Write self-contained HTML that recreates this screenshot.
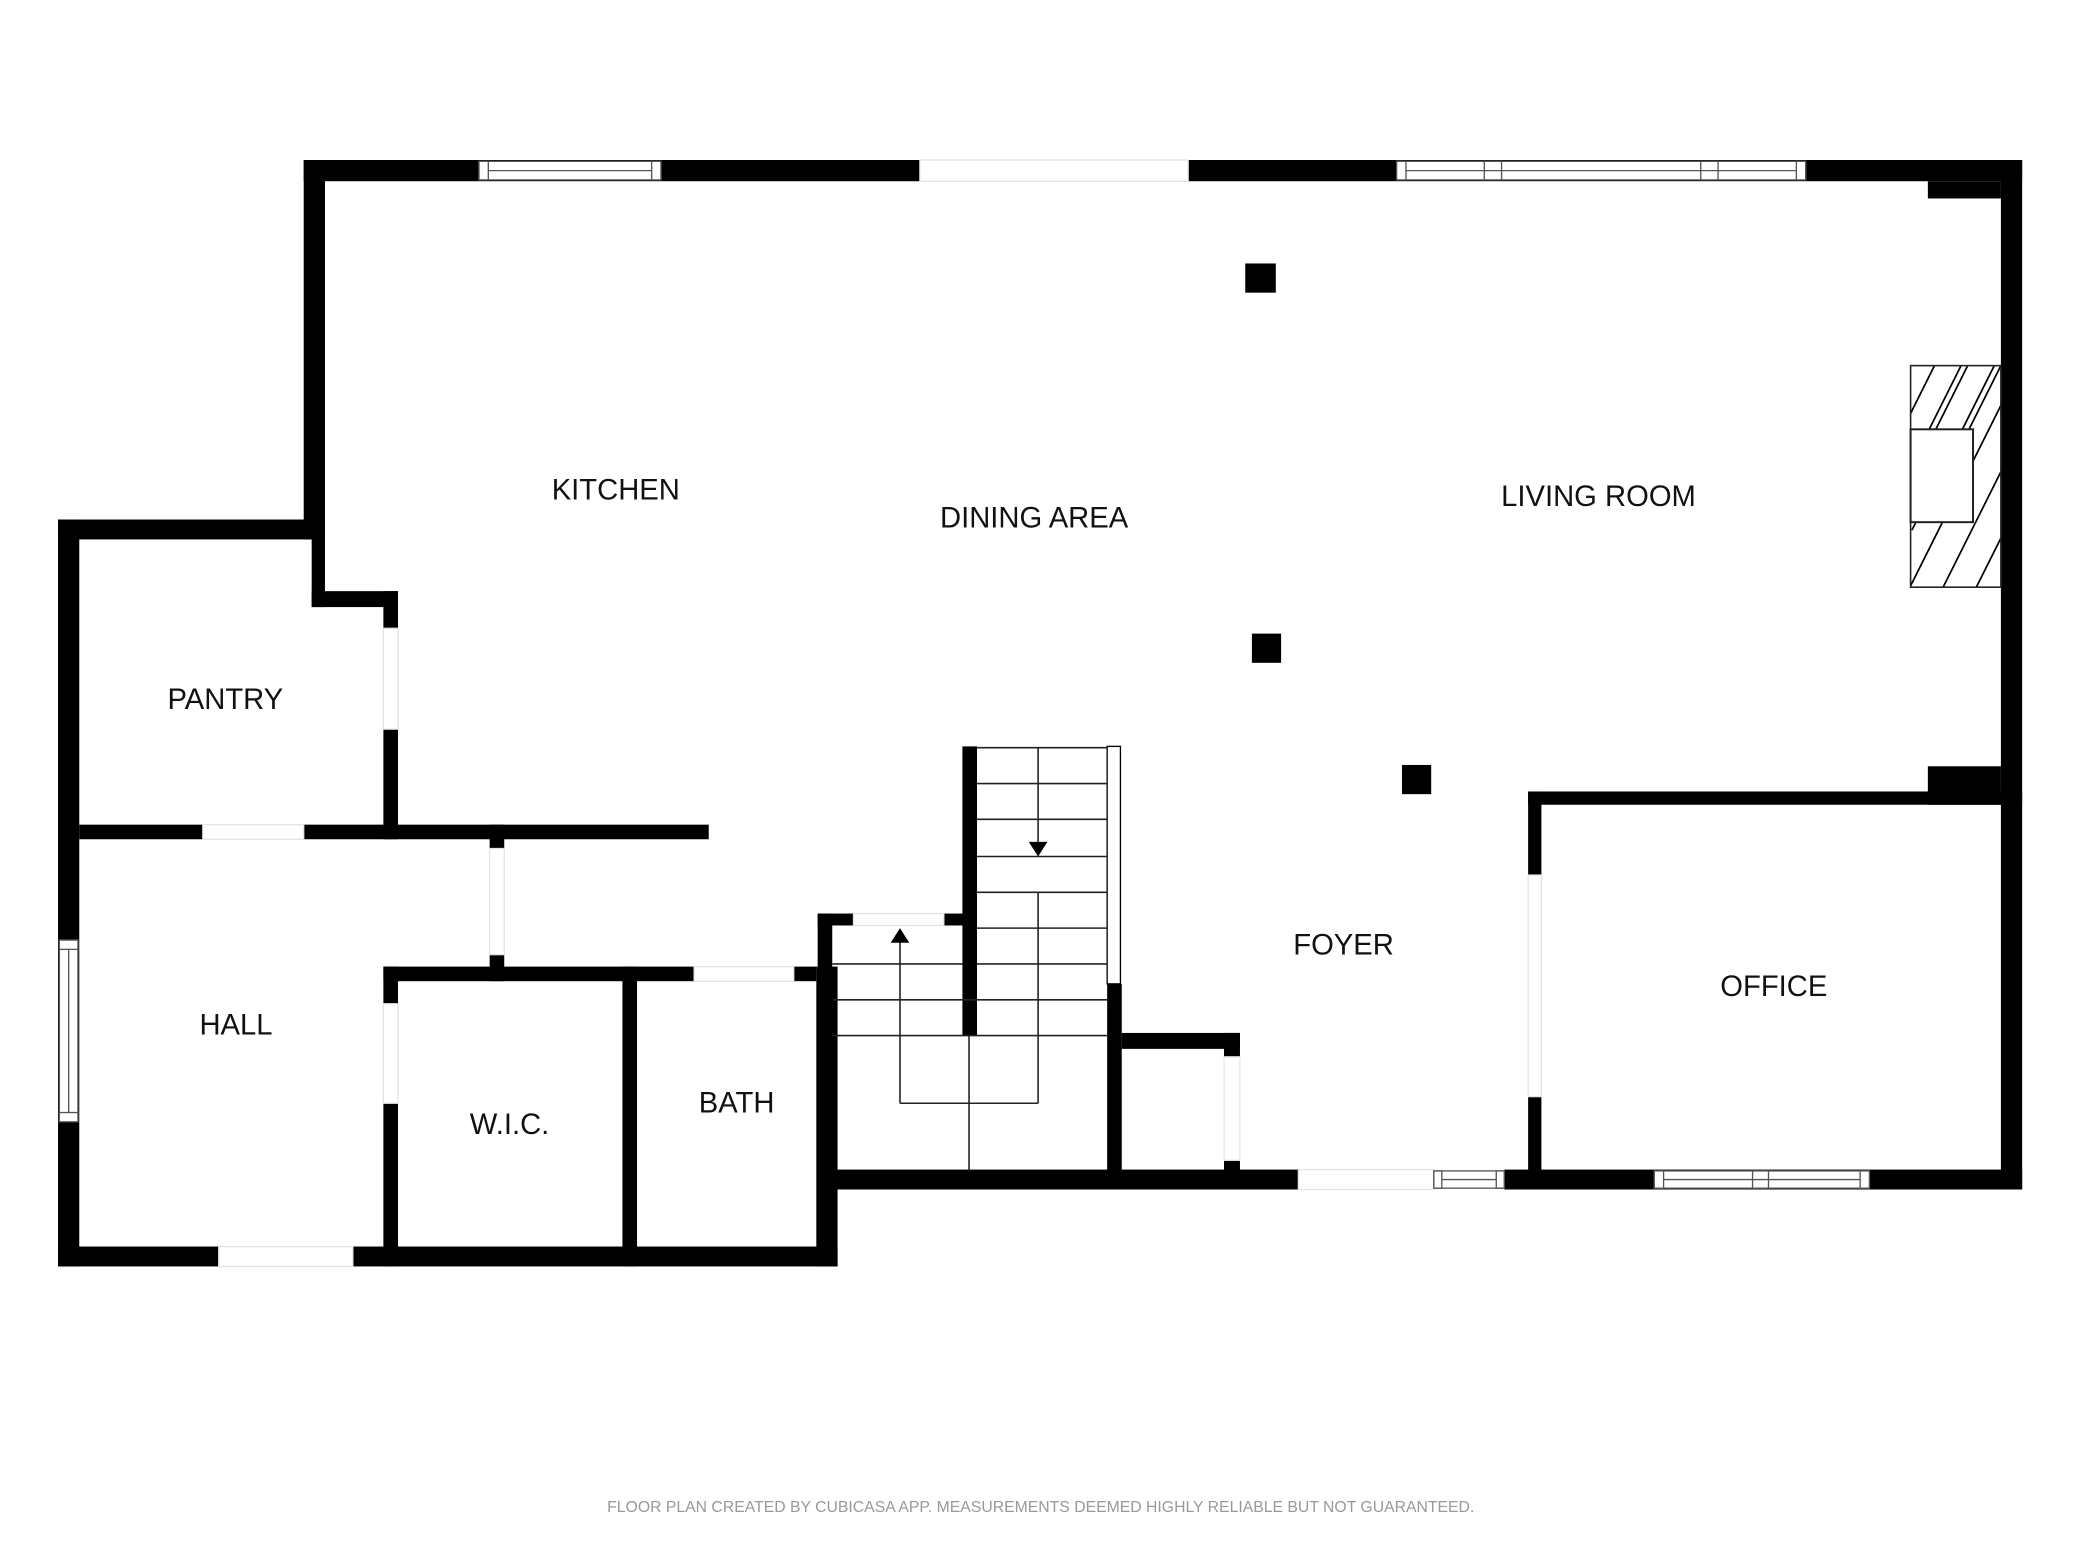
<!DOCTYPE html>
<html><head><meta charset="utf-8"><style>html,body{margin:0;padding:0;background:#fff}svg{display:block}</style></head>
<body>
<svg width="2080" height="1560" viewBox="0 0 1560 1170" xmlns="http://www.w3.org/2000/svg" font-family="Liberation Sans, sans-serif">
<rect width="1560" height="1170" fill="#fff"/>
<g transform="translate(-0.3,-0.4) scale(0.996,0.995)">
<g fill="#000">
<rect x="229" y="121" width="1294" height="16"/>
<rect x="1507" y="121" width="16" height="776"/>
<rect x="1452" y="137" width="55" height="13"/>
<rect x="229" y="121" width="16" height="286"/>
<rect x="44" y="392" width="201" height="15"/>
<rect x="44" y="392" width="16" height="563"/>
<rect x="235" y="400" width="10" height="58"/>
<rect x="235" y="446" width="65" height="12"/>
<rect x="289" y="446" width="11" height="187"/>
<rect x="60" y="622" width="474" height="11"/>
<rect x="369" y="622" width="11" height="18"/>
<rect x="369" y="720" width="11" height="20"/>
<rect x="289" y="729" width="326" height="11"/>
<rect x="289" y="729" width="11" height="226"/>
<rect x="469" y="729" width="11" height="226"/>
<rect x="44" y="940" width="587" height="15"/>
<rect x="615" y="729" width="16" height="226"/>
<rect x="616" y="689" width="11" height="208"/>
<rect x="616" y="689" width="27" height="9"/>
<rect x="711" y="689" width="25" height="9"/>
<rect x="725" y="563" width="11" height="218"/>
<rect x="834" y="742" width="11" height="155"/>
<rect x="627" y="882" width="351" height="15"/>
<rect x="845" y="779" width="89" height="12"/>
<rect x="922" y="779" width="12" height="18"/>
<rect x="922" y="875" width="12" height="22"/>
<rect x="1151" y="597" width="10" height="63"/>
<rect x="1151" y="827" width="10" height="70"/>
<rect x="1151" y="597" width="372" height="10"/>
<rect x="1452" y="578" width="55" height="29"/>
<rect x="1133" y="882" width="390" height="15"/>
<rect x="938" y="199" width="23" height="22"/>
<rect x="943" y="478" width="22" height="22"/>
<rect x="1056" y="577" width="22" height="22"/>
</g>
<g fill="#fff" stroke="#e4e4e4" stroke-width="1">
<rect x="693" y="121" width="202" height="16"/>
<rect x="153" y="622" width="76" height="11"/>
<rect x="289" y="474" width="11" height="76"/>
<rect x="369" y="640" width="11" height="80"/>
<rect x="523" y="729" width="75" height="11"/>
<rect x="289" y="757" width="11" height="75"/>
<rect x="165" y="940" width="101" height="15"/>
<rect x="922" y="797" width="12" height="78"/>
<rect x="978" y="882" width="102" height="15"/>
<rect x="1151" y="660" width="10" height="167"/>
<rect x="643" y="689" width="68" height="9"/>
</g>
<g fill="#fff" stroke="#555" stroke-width="1">
<rect x="361" y="122" width="137" height="14"/>
<rect x="361" y="122" width="7" height="14"/><rect x="491" y="122" width="7" height="14"/>
<line x1="368" y1="129" x2="491" y2="129"/>
<rect x="1052" y="122" width="308" height="14"/>
<rect x="1052" y="122" width="7" height="14"/><rect x="1118" y="122" width="13" height="14"/><rect x="1281" y="122" width="13" height="14"/><rect x="1353" y="122" width="7" height="14"/>
<line x1="1059" y1="129" x2="1353" y2="129"/>
<rect x="45" y="709" width="14" height="137"/>
<rect x="45" y="709" width="14" height="7"/><rect x="45" y="839" width="14" height="7"/>
<line x1="52" y1="716" x2="52" y2="839"/>
<rect x="1080" y="883" width="53" height="13"/>
<rect x="1080" y="883" width="6" height="13"/><rect x="1127" y="883" width="6" height="13"/>
<line x1="1086" y1="889.5" x2="1127" y2="889.5"/>
<rect x="1246" y="883" width="162" height="13"/>
<rect x="1246" y="883" width="7" height="13"/><rect x="1320" y="883" width="12" height="13"/><rect x="1401" y="883" width="7" height="13"/>
<line x1="1253" y1="889.5" x2="1401" y2="889.5"/>
<rect x="834" y="563" width="10" height="179" stroke="#000"/>
</g>
<defs><clipPath id="fp"><rect x="1439" y="276" width="68" height="167"/></clipPath></defs>
<g clip-path="url(#fp)" stroke="#000" stroke-width="1.3" fill="none">
<path d="M1430 330 L1470 250 M1455 330 L1495 250 M1480 330 L1520 250 M1430 370 L1510 210 M1440 400 L1520 240 M1430 460 L1530 260 M1455 460 L1545 280 M1480 460 L1560 300 M1505 460 L1580 310"/>
</g>
<rect x="1439" y="276" width="68" height="167" fill="none" stroke="#222" stroke-width="1.2"/>
<rect x="1439" y="324" width="47" height="70" fill="#fff" stroke="#222" stroke-width="1.5"/>
<g stroke="#222" stroke-width="1.2" fill="none">
<line x1="736" y1="564" x2="834" y2="564"/>
<line x1="736" y1="591" x2="834" y2="591"/>
<line x1="736" y1="618" x2="834" y2="618"/>
<line x1="736" y1="646" x2="834" y2="646"/>
<line x1="736" y1="673" x2="834" y2="673"/>
<line x1="736" y1="700" x2="834" y2="700"/>
<line x1="736" y1="727" x2="834" y2="727"/>
<line x1="627" y1="727" x2="725" y2="727"/>
<line x1="627" y1="754" x2="834" y2="754"/>
<line x1="627" y1="781" x2="834" y2="781"/>
<line x1="782" y1="564" x2="782" y2="636"/>
<line x1="782" y1="673" x2="782" y2="832"/>
<line x1="678" y1="832" x2="782" y2="832"/>
<line x1="678" y1="710" x2="678" y2="832"/>
<line x1="730" y1="781" x2="730" y2="882"/>
</g>
<path d="M775 635 L789 635 L782 646 Z" fill="#000"/>
<path d="M671 711 L685 711 L678 700 Z" fill="#000"/>
<g font-size="22" fill="#111" text-anchor="middle">
<text x="464" y="377">KITCHEN</text>
<text x="779" y="398">DINING AREA</text>
<text x="1204" y="382">LIVING ROOM</text>
<text x="170" y="535">PANTRY</text>
<text x="178" y="780">HALL</text>
<text x="384" y="855">W.I.C.</text>
<text x="555" y="839">BATH</text>
<text x="1012" y="720">FOYER</text>
<text x="1336" y="751">OFFICE</text>
</g>
<text x="784" y="1140" font-size="12" fill="#999" text-anchor="middle" textLength="653" lengthAdjust="spacingAndGlyphs">FLOOR PLAN CREATED BY CUBICASA APP. MEASUREMENTS DEEMED HIGHLY RELIABLE BUT NOT GUARANTEED.</text>
</g>
</svg>
</body></html>
